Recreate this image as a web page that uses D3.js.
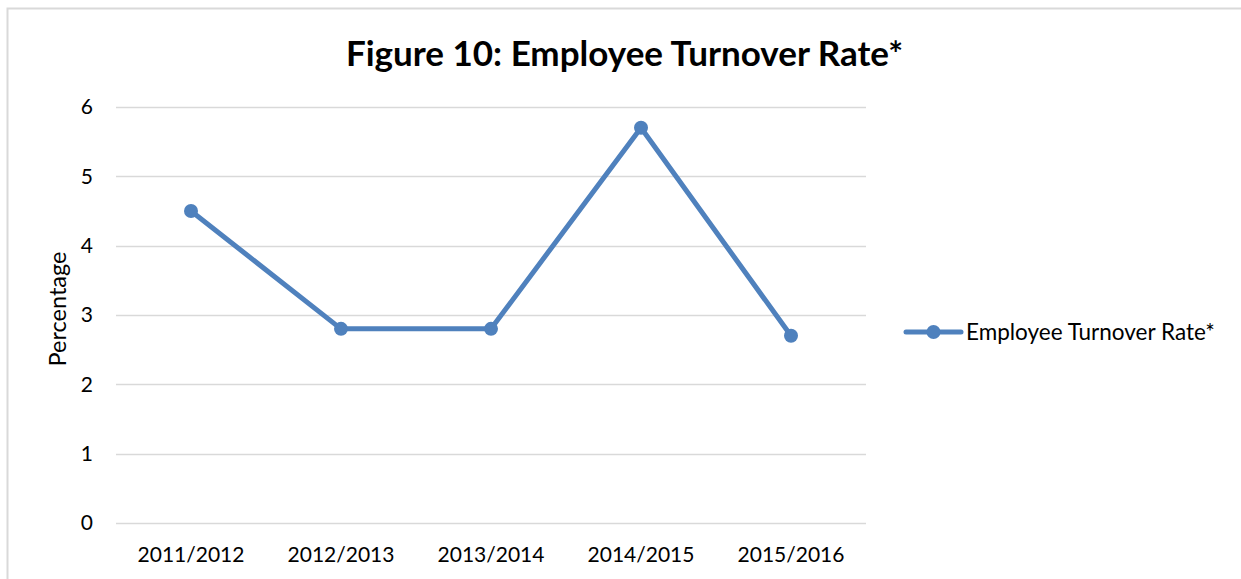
<!DOCTYPE html>
<html>
<head>
<meta charset="utf-8">
<script src="https://cdn.jsdelivr.net/npm/d3@7"></script>
<style>
  body { margin: 0; background: #fff; }
  text { font-family: Lato, "Open Sans", sans-serif; fill: #000; }
</style>
</head>
<body>
<div id="chart"></div>
<script>
// chart data
var years = ["2011/2012", "2012/2013", "2013/2014", "2014/2015", "2015/2016"];
var turnover = [4.5, 2.8, 2.8, 5.7, 2.7];
var yTicks = [0, 1, 2, 3, 4, 5, 6];
var seriesName = "Employee Turnover Rate*";
var chartTitle = "Figure 10: Employee Turnover Rate*";

var width = 1241,
    height = 579;

var blue = "#4f81bd",
    grid = "#d9d9d9";

var svg = d3.select("#chart")
            .append("svg")
            .attr("width", width)
            .attr("height", height);

// outer chart frame (right and bottom edges are cut off in the picture)
svg.append("rect")
   .attr("x", 7.5)
   .attr("y", 8.5)
   .attr("width", width + 20)
   .attr("height", height + 20)
   .attr("fill", "none")
   .attr("stroke", grid)
   .attr("stroke-width", 2);

var plot = { left: 116, right: 866, top: 107, bottom: 523 };

var x = d3.scaleBand()
          .domain(years)
          .range([plot.left, plot.right]);

var y = d3.scaleLinear()
          .domain([0, 6])
          .range([plot.bottom, plot.top]);

// gridlines
svg.append("g")
   .selectAll("line")
   .data(yTicks)
   .enter()
   .append("line")
   .attr("x1", plot.left)
   .attr("x2", plot.right)
   .attr("y1", function(d) { return Math.round(y(d)) + 0.5; })
   .attr("y2", function(d) { return Math.round(y(d)) + 0.5; })
   .attr("stroke", grid)
   .attr("stroke-width", 1.5);

// y axis labels
var yAxis = d3.axisLeft(y).tickValues(yTicks).tickFormat(d3.format("d")).tickSize(0).tickPadding(23);
svg.append("g")
   .attr("transform", "translate(" + plot.left + ",0)")
   .call(yAxis)
   .call(function(g) { g.select(".domain").remove(); })
   .selectAll("text")
   .style("font-family", "Lato, 'Open Sans', sans-serif")
   .style("font-size", "21px")
   .attr("fill", "#000");

// x axis labels
var xAxis = d3.axisBottom(x).tickSize(0).tickPadding(24);
svg.append("g")
   .attr("transform", "translate(0," + plot.bottom + ")")
   .call(xAxis)
   .call(function(g) { g.select(".domain").remove(); })
   .selectAll("text")
   .style("font-family", "Lato, 'Open Sans', sans-serif")
   .style("font-size", "21px")
   .attr("fill", "#000");

// line
var line = d3.line()
             .x(function(d, i) { return x(years[i]) + x.bandwidth() / 2; })
             .y(function(d) { return y(d); });

svg.append("path")
   .datum(turnover)
   .attr("d", line)
   .attr("fill", "none")
   .attr("stroke", blue)
   .attr("stroke-width", 5)
   .attr("stroke-linejoin", "round")
   .attr("stroke-linecap", "round");

svg.append("g")
   .selectAll("circle")
   .data(turnover)
   .enter()
   .append("circle")
   .attr("cx", function(d, i) { return x(years[i]) + x.bandwidth() / 2; })
   .attr("cy", function(d) { return y(d); })
   .attr("r", 7)
   .attr("fill", blue);

// title
svg.append("text")
   .attr("x", 624.5)
   .attr("y", 66)
   .attr("text-anchor", "middle")
   .style("font-size", "35px")
   .style("font-weight", "bold")
   .text(chartTitle);

// y axis title
svg.append("text")
   .attr("transform", "translate(66,309) rotate(-90)")
   .attr("text-anchor", "middle")
   .style("font-size", "23.5px")
   .text("Percentage");

// legend
var legend = svg.append("g").attr("transform", "translate(906,332)");
legend.append("line")
      .attr("x1", 0).attr("x2", 55)
      .attr("y1", 0).attr("y2", 0)
      .attr("stroke", blue)
      .attr("stroke-width", 5)
      .attr("stroke-linecap", "round");
legend.append("circle")
      .attr("cx", 27.5).attr("cy", 0)
      .attr("r", 7)
      .attr("fill", blue);
legend.append("text")
      .attr("x", 60)
      .attr("y", 8)
      .style("font-size", "22.5px")
      .text(seriesName);
</script>
</body>
</html>
